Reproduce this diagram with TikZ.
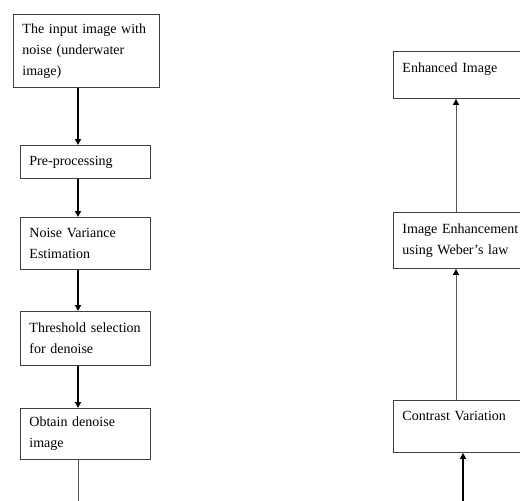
\documentclass[tikz,border=0pt]{standalone}
\usepackage{fontspec}
\setmainfont{Liberation Serif}
\usetikzlibrary{arrows.meta}
\usetikzlibrary{positioning}

\begin{document}
\begin{tikzpicture}[x=1pt, y=-1pt,
    box/.style={draw=black!75, line width=0.9pt, anchor=north west, align=left,
        inner xsep=9pt, inner ysep=0pt, font=\fontsize{14}{21}\selectfont},
    flow/.style={-{Triangle[length=6pt, width=6pt]}, line width=1.6pt},
    thinflow/.style={draw=black!65, line width=0.9pt,
        -{Triangle[length=6pt, width=6pt, color=black]}}]
    \useasboundingbox (0,0) rectangle (520,501);
    \clip (0,0) rectangle (520,501);

    % Denoising steps
    \node[box, minimum width=146, minimum height=73, text width=128] (input) at (13,14)
        {The input image with\\ noise (underwater\\ image)};
    \node[box, minimum width=130, minimum height=33, text width=112] (prep) at (20,145)
        {Pre-processing};
    \node[box, minimum width=130, minimum height=52, text width=112] (noisevar) at (20,217)
        {Noise Variance\\ Estimation};
    \node[box, minimum width=130, minimum height=54, text width=112] (thresh) at (20,311)
        {Threshold selection\\ for denoise};
    \node[box, minimum width=130, minimum height=51, text width=112] (denoised) at (20,408)
        {Obtain denoise\\ image};

    \coordinate (leftaxis) at (78,0);
    \coordinate (denoiseout) at (78,501);
    \draw[flow] (input.south -| leftaxis) -- (prep.north -| leftaxis);
    \draw[flow] (prep.south -| leftaxis) -- (noisevar.north -| leftaxis);
    \draw[flow] (noisevar.south -| leftaxis) -- (thresh.north -| leftaxis);
    \draw[flow] (thresh.south -| leftaxis) -- (denoised.north -| leftaxis);
    \draw[draw=black!65, line width=0.9pt] (denoised.south -| leftaxis) -- (denoiseout);

    % Enhancement steps
    \node[box, minimum width=150, text width=132, inner ysep=8pt, text height=13pt, text depth=18pt] (enhanced) at (393,51)
        {Enhanced Image};
    \node[box, minimum width=150, minimum height=56, text width=132] (weber) at (393,212)
        {Image Enhancement\\ using Weber's law};
    \node[box, minimum width=150, text width=132, inner ysep=8pt, text height=12pt, text depth=24pt] (contrast) at (393,400)
        {Contrast Variation};

    \coordinate (rightaxis) at (456,0);
    \coordinate (contrastin) at (463,501);
    \draw[thinflow] (contrast.north -| rightaxis) -- (weber.south -| rightaxis);
    \draw[thinflow] (weber.north -| rightaxis) -- (enhanced.south -| rightaxis);
    \draw[flow] (contrastin) -- (contrast.south -| contrastin);
\end{tikzpicture}
\end{document}
